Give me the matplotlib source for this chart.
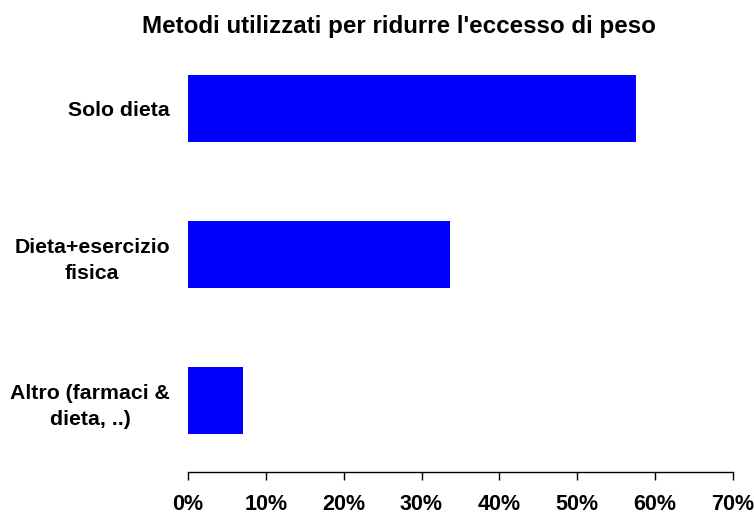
#!/usr/bin/env python3
# -*- coding: utf-8 -*-

"""
Barre orizzontali: metodi utilizzati per ridurre l'eccesso di peso.
"""

import numpy as np
import matplotlib.pyplot as plt
from matplotlib.ticker import FuncFormatter

### Dati ###

categorie = ["Solo dieta", "Dieta+esercizio\nfisica", "Altro (farmaci &\ndieta, ..)"]
percentuali = [57.5, 33.7, 7.1]
tick_x = [0, 10, 20, 30, 40, 50, 60, 70]
titolo = "Metodi utilizzati per ridurre l'eccesso di peso"

### Grafico ###

plt.rcParams['font.family'] = ['Liberation Sans', 'DejaVu Sans']
plt.rcParams['font.weight'] = 'bold'

fig = plt.figure(figsize=(7.54, 5.15), dpi=100)
ax = fig.add_axes([0.2493, 0.0835, 0.7228, 0.848])

pos = np.arange(len(categorie))
ax.barh(pos, percentuali, height=0.46, color='#0000ff')

ax.set_ylim(len(categorie) - 1 + 0.488, -0.5)
ax.set_xlim(0, 70)
ax.set_xticks(tick_x)
ax.xaxis.set_major_formatter(FuncFormatter(lambda v, p: f"{v:.0f}%"))
ax.tick_params(axis='x', direction='out', length=6, width=1, pad=10,
               labelsize=15.5)
for lab in ax.get_xticklabels():
    lab.set_fontweight('bold')

ax.set_yticks(pos)
ax.set_yticklabels(categorie, fontsize=15.3, fontweight='bold',
                   multialignment='center', linespacing=1.5)
ax.tick_params(axis='y', length=0, pad=13)

for s in ['top', 'right', 'left']:
    ax.spines[s].set_visible(False)
ax.spines['bottom'].set_linewidth(1)

fig.text(398.5 / 754, 1 - 27 / 515, titolo, ha='center', va='center',
         fontsize=17.4, fontweight='bold')

fig.savefig("out.png", dpi=100)
